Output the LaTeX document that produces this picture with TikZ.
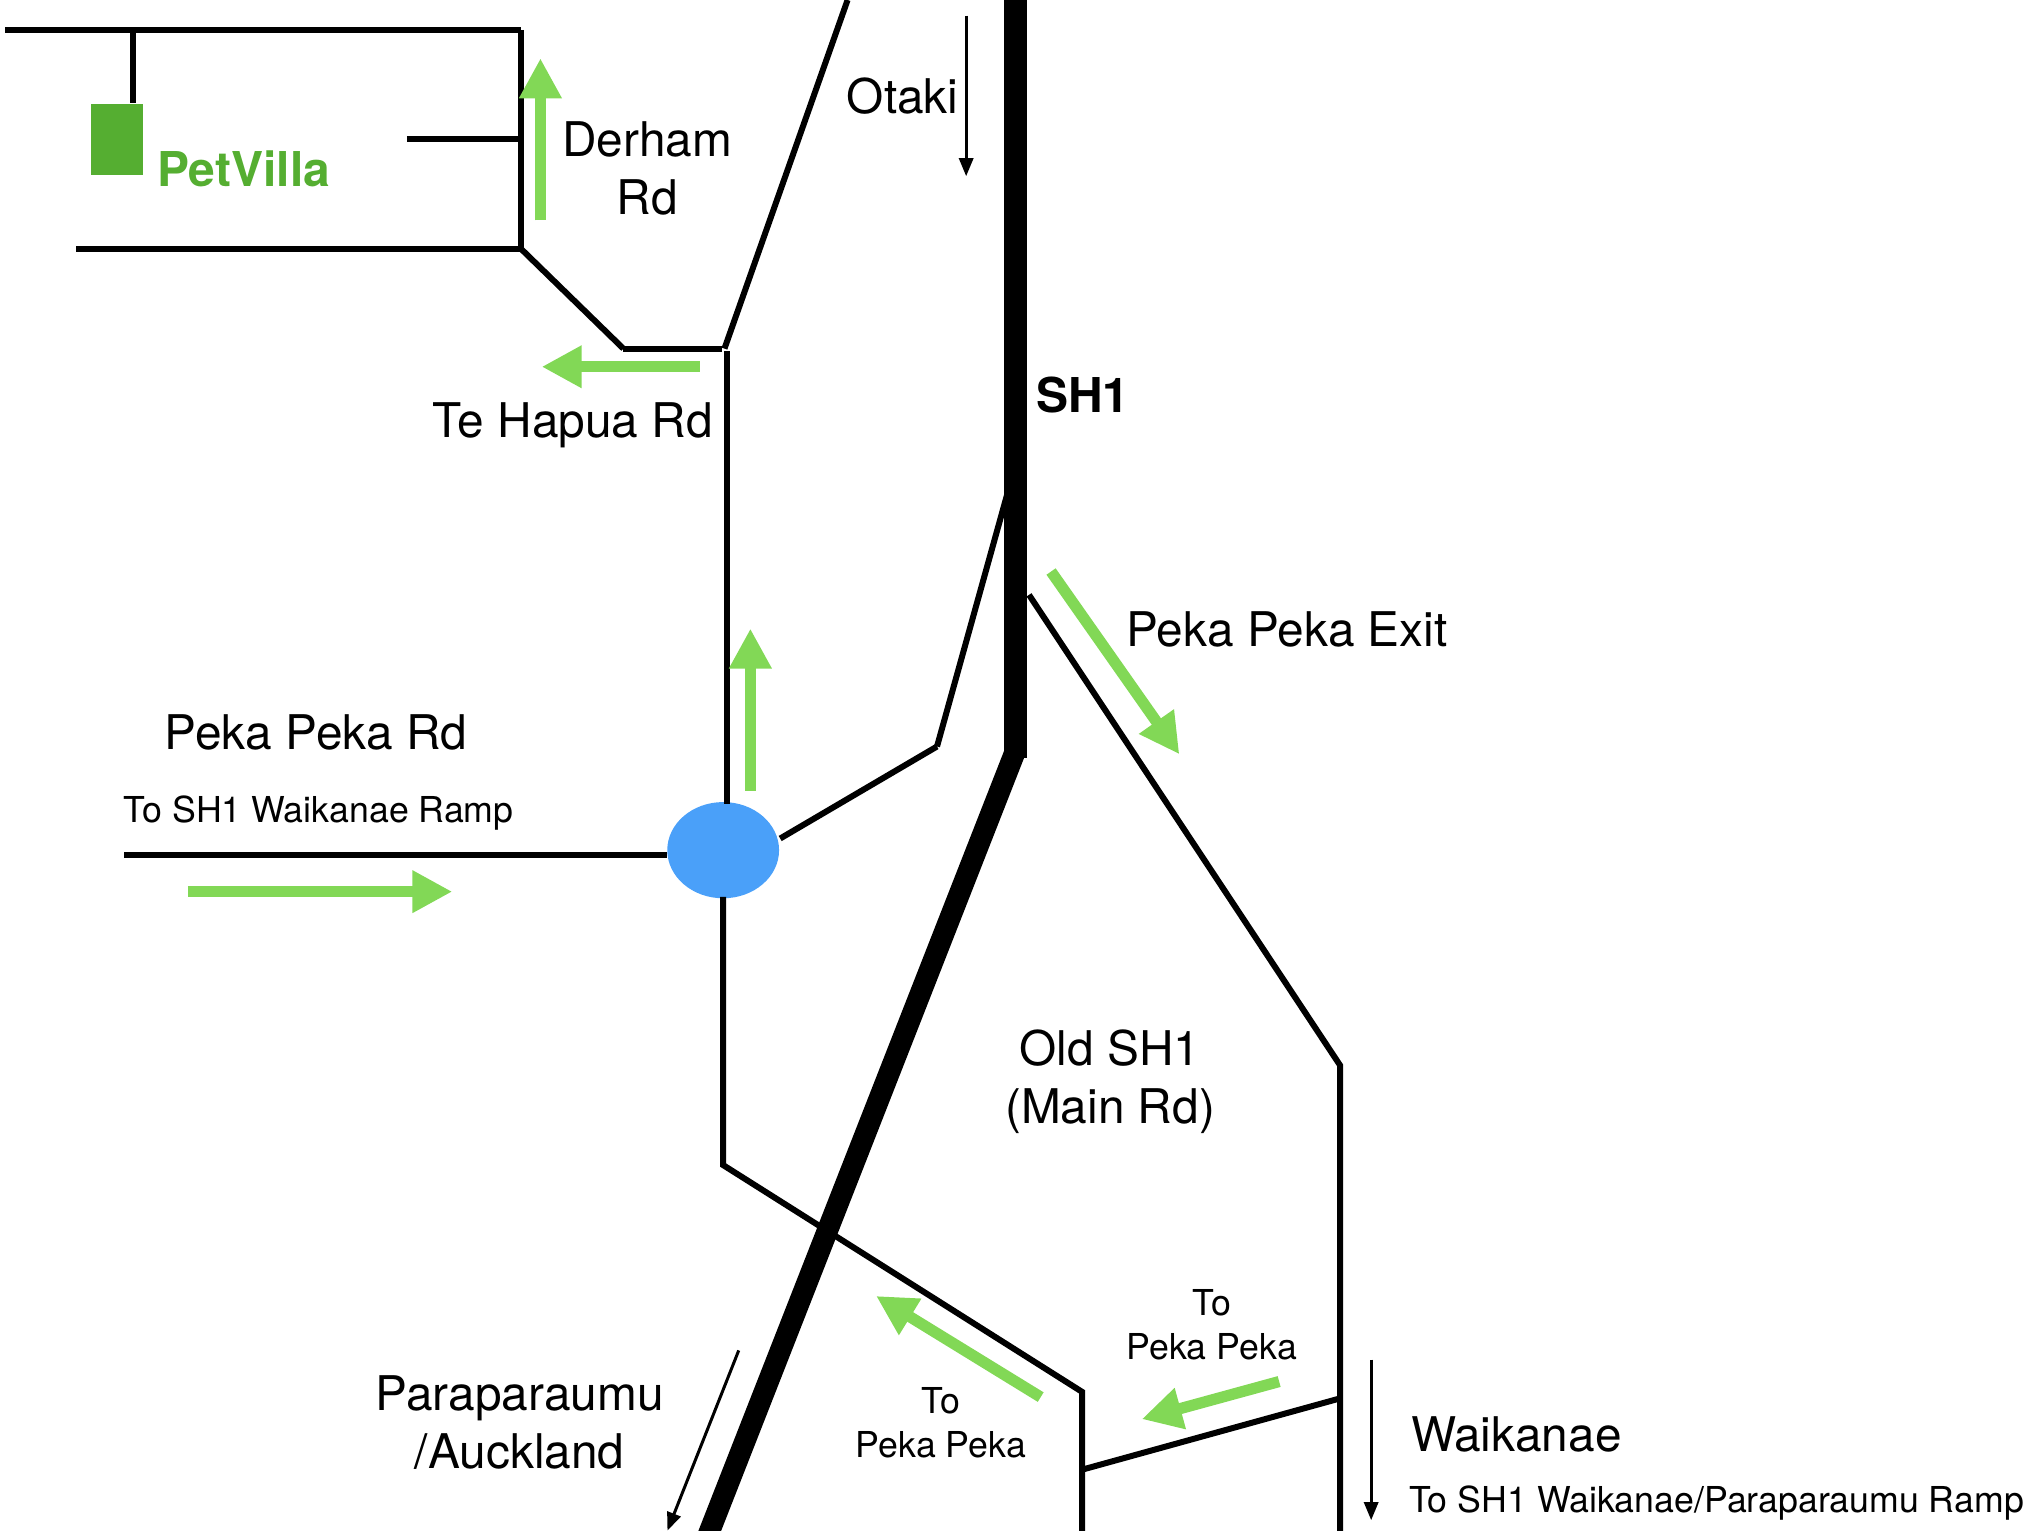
\documentclass[tikz,border=0pt]{standalone}
\usepackage{fontspec}
\setmainfont{TeX Gyre Heros}
\usetikzlibrary{arrows.meta,shapes.geometric}
\definecolor{gbar}{HTML}{82D856}
\definecolor{pet}{HTML}{55AE31}
\definecolor{rbt}{HTML}{4AA0F9}
\tikzset{
  road/.style={draw=black,line width=3pt,line cap=butt},
  highway/.style={draw=black,line width=11.2pt},
  dirarrow/.style={draw=gbar,line width=5.6pt,-{Triangle[length=20pt,width=20pt,fill=gbar]}},
  thinarrow/.style={draw=black,line width=1.5pt,-{Triangle[length=9pt,width=7pt]}},
  biglabel/.style={font=\fontsize{23.9}{29}\selectfont,align=center,inner sep=0pt,anchor=center},
  smalllabel/.style={font=\fontsize{17.85}{22}\selectfont,align=center,inner sep=0pt,anchor=center},
  boldlabel/.style={font=\fontsize{24}{29}\selectfont\bfseries,inner sep=0pt,anchor=center}
}
\begin{document}
\begin{tikzpicture}[x=0.648pt,y=-0.648pt]
\useasboundingbox (0,0) rectangle (1567.9,1180.6);
% junctions
\coordinate (tl) at (4,23); \coordinate (tr) at (402,23);
\coordinate (stubtop) at (103,23);
\coordinate (midl) at (314,107); \coordinate (midr) at (402,107);
\coordinate (bl) at (59,192); \coordinate (br) at (402,192);
\coordinate (hapW) at (481,269); \coordinate (hapE) at (557,269);
\coordinate (nTop) at (654,0); \coordinate (nBot) at (559,269);
\coordinate (vTop) at (561,271);
\coordinate (sh1T) at (783.5,-5); \coordinate (sh1M) at (783.5,585);
\coordinate (slipT) at (777,382); \coordinate (slipM) at (723,576);
\coordinate (exitT) at (794,459); \coordinate (exitM) at (1034,822); \coordinate (exitB) at (1034,1185);
\coordinate (ppW) at (96,660);
\coordinate (oldM) at (558,899); \coordinate (oldR) at (835,1074); \coordinate (oldB) at (835,1185);
\coordinate (linkW) at (835,1134); \coordinate (linkE) at (1034,1079);
\coordinate (sh1S1) at (782.5,582); \coordinate (sh1S2) at (545,1188);
% highway
\draw[highway] (sh1T) -- (sh1M);
\draw[highway,line width=10.6pt] (sh1S1) -- (sh1S2);
% roundabout
\node[ellipse,fill=rbt,minimum width=55.9pt,minimum height=48.1pt,inner sep=0pt] (rb) at (558,656) {};
% roads
\draw[road] (tl) -- (tr);
\node[fill=pet,minimum width=26pt,minimum height=35.75pt,inner sep=0pt] (shop) at (90,107.5) {};
\draw[road] (stubtop) -- (stubtop |- shop.north);
\draw[road] (tr) -- (br);
\draw[road] (midl) -- (midr);
\draw[road] (bl) -- (br);
\draw[road] (br) -- (hapW);
\draw[road] (hapW) -- (hapE);
\draw[road] (nBot) -- (nTop);
\draw[road] (vTop) -- (561,620);
\draw[road] (slipT) -- (slipM);
\draw[road] (slipM) -- (602,647);
\draw[road] (exitT) -- (exitM) -- (exitB);
\draw[road] (ppW) -- (515,660);
\draw[road] (558,692) -- (oldM) -- (oldR) -- (oldB);
\draw[road] (linkW) -- (linkE);
% green direction arrows
\draw[dirarrow] (417,170) -- (417,45);
\draw[dirarrow] (540,283) -- (418,283);
\draw[dirarrow] (579,610) -- (579,485);
\draw[dirarrow] (145,688) -- (349,688);
\draw[dirarrow] (811,441) -- (910,582);
\draw[dirarrow] (803,1078) -- (676,1000);
\draw[dirarrow] (987,1066) -- (881,1095);
% thin arrows
\draw[thinarrow] (745.5,12) -- (745.5,136);
\draw[thinarrow] (570,1042) -- (515,1181);
\draw[thinarrow] (1058,1049) -- (1058,1173);
% labels
\node[boldlabel,text=pet] (petv) at (188,130) {PetVilla};
\node[biglabel] (otaki) at (696.5,74) {Otaki};
\node[biglabel] (derham) at (499.5,130) {Derham\\Rd};
\node[biglabel] (hapua) at (442,328) {Te Hapua Rd};
\node[boldlabel] (shone) at (835.5,305) {SH1};
\node[biglabel] (exit) at (993,486) {Peka Peka Exit};
\node[biglabel] (pprd) at (244,565) {Peka Peka Rd};
\node[smalllabel] (ramp) at (246,627.5) {To SH1 Waikanae Ramp};
\node[biglabel] (oldsh) at (856.5,835) {Old SH1\\(Main Rd)};
\node[smalllabel] (tp1) at (935,1022) {To\\Peka Peka};
\node[smalllabel] (tp2) at (726,1098) {To\\Peka Peka};
\node[biglabel] (para) at (401,1097.5) {Paraparaumu\\/Auckland};
\node[biglabel] (waik) at (1170,1107) {Waikanae};
\node[smalllabel] (ramp2) at (1324.5,1160) {To SH1 Waikanae/Paraparaumu Ramp};
\end{tikzpicture}
\end{document}
